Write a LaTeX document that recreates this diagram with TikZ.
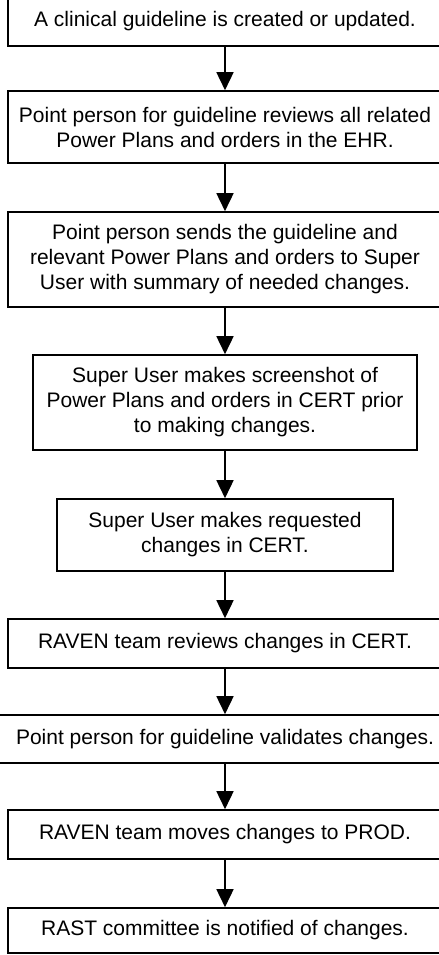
\documentclass[tikz,border=0pt]{standalone}
\usepackage{fontspec}
\setmainfont{Liberation Sans}
\usetikzlibrary{arrows.meta}
\begin{document}
\begin{tikzpicture}[x=1bp,y=1bp,
  stepbox/.style={draw=black,line width=1.6bp,fill=white,inner sep=0pt,align=center,
    font=\fontsize{21bp}{25bp}\selectfont},
  flow/.style={line width=1.6bp,-{Triangle[width=17bp,length=18bp]}}]
\useasboundingbox (0,0) rectangle (439,-955);
\node[stepbox,minimum width=434bp,minimum height=49bp] (b1) at (225,-21.5) {A clinical guideline is created or updated.};
\node[stepbox,minimum width=434bp,minimum height=72bp] (b2) at (225,-127) {Point person for guideline reviews all related\\Power Plans and orders in the EHR.};
\node[stepbox,minimum width=434bp,minimum height=95bp] (b3) at (225,-259.5) {Point person sends the guideline and\\relevant Power Plans and orders to Super\\User with summary of needed changes.};
\node[stepbox,minimum width=384bp,minimum height=95bp] (b4) at (225,-402.5) {Super User makes screenshot of\\Power Plans and orders in CERT prior\\to making changes.};
\node[stepbox,minimum width=336bp,minimum height=72bp] (b5) at (225,-535) {Super User makes requested\\changes in CERT.};
\node[stepbox,minimum width=434bp,minimum height=49bp] (b6) at (225,-643.5) {RAVEN team reviews changes in CERT.};
\node[stepbox,minimum width=470bp,minimum height=48bp] (b7) at (225,-739) {Point person for guideline validates changes.};
\node[stepbox,minimum width=434bp,minimum height=49bp] (b8) at (225,-834.5) {RAVEN team moves changes to PROD.};
\node[stepbox,minimum width=434bp,minimum height=45bp] (b9) at (225,-930.5) {RAST committee is notified of changes.};
\draw[flow] (b1) -- (b2);
\draw[flow] (b2) -- (b3);
\draw[flow] (b3) -- (b4);
\draw[flow] (b4) -- (b5);
\draw[flow] (b5) -- (b6);
\draw[flow] (b6) -- (b7);
\draw[flow] (b7) -- (b8);
\draw[flow] (b8) -- (b9);
\end{tikzpicture}
\end{document}
